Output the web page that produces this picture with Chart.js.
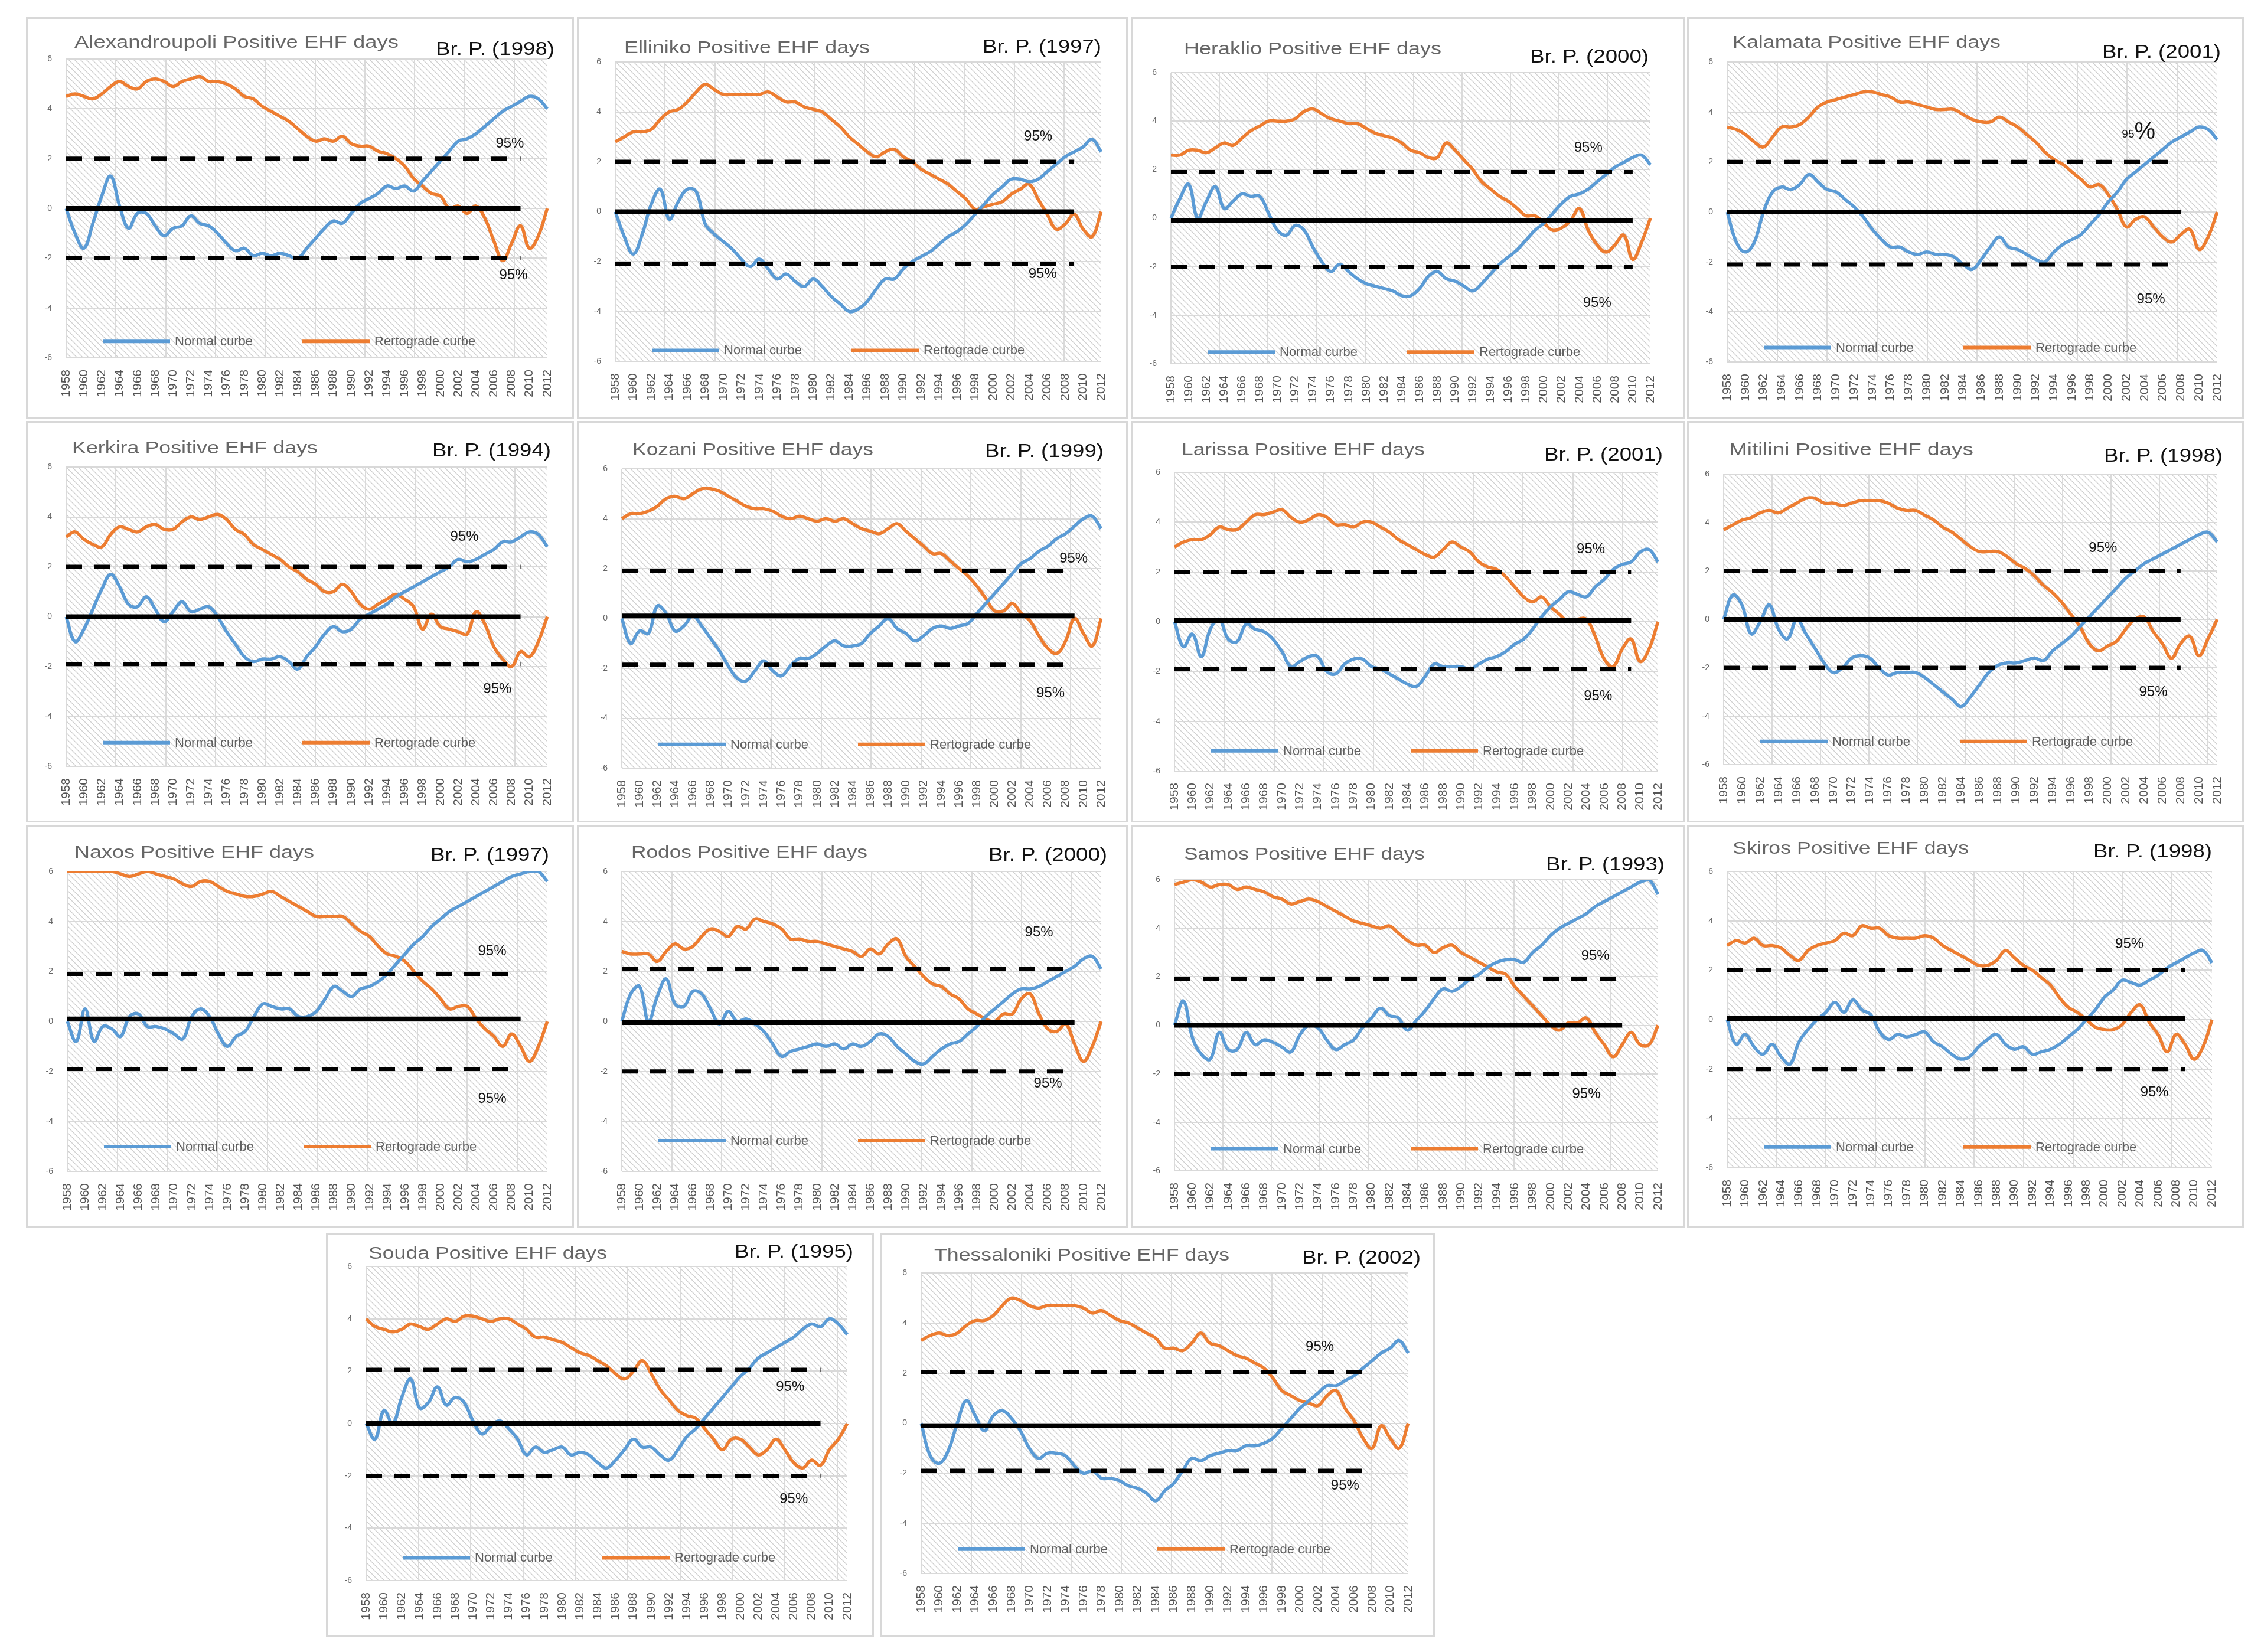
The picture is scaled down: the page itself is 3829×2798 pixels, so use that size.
<!DOCTYPE html>
<html>
<head>
<meta charset="utf-8">
<title>Positive EHF days</title>
<script src="https://cdn.jsdelivr.net/npm/chart.js@4.4.1/dist/chart.umd.min.js"></script>
<style>
  html, body { margin: 0; padding: 0; background: #fff; }
  #page { position: relative; width: 3829px; height: 2798px; overflow: hidden; background: #fff; }
  .panel { position: absolute; background: #fff; }
  .panel::after { content: ''; position: absolute; left: 0; top: 0; right: 0; bottom: 0;
                  border: 3px solid #d8d8d8; pointer-events: none; }
  .cv { position: absolute; left: 0; top: 0; width: 100%; height: 100%; }
  .ttl, .brp { position: absolute; white-space: nowrap; line-height: 1;
               font-family: "Liberation Sans Narrow", "Liberation Sans", Arial, sans-serif; }
  .ttl { color: #666; font-size: 29px; transform-origin: 0 50%; }
  .brp { color: #111; font-size: 31px; transform-origin: 100% 50%; }
</style>
</head>
<body>
<div id="page"></div>
<script>
// categories
const years = [1958, 1959, 1960, 1961, 1962, 1963, 1964, 1965, 1966, 1967,
  1968, 1969, 1970, 1971, 1972, 1973, 1974, 1975, 1976, 1977,
  1978, 1979, 1980, 1981, 1982, 1983, 1984, 1985, 1986, 1987,
  1988, 1989, 1990, 1991, 1992, 1993, 1994, 1995, 1996, 1997,
  1998, 1999, 2000, 2001, 2002, 2003, 2004, 2005, 2006, 2007,
  2008, 2009, 2010, 2011, 2012];
const yTicks = [-6, -4, -2, 0, 2, 4, 6];

const stations = ['Alexandroupoli', 'Elliniko', 'Heraklio', 'Kalamata', 'Kerkira', 'Kozani', 'Larissa',
  'Mitilini', 'Naxos', 'Rodos', 'Samos', 'Skiros', 'Souda', 'Thessaloniki'];
const breakYears = [1998, 1997, 2000, 2001, 1994, 1999, 2001, 1998, 1997, 2000, 1993, 1998, 1995, 2002];

// 95% limits, zero line and the year where those reference lines stop
const upperLimit = [2.0, 2.0, 1.9, 2.0, 2.0, 1.9, 2.0, 2.0, 1.9, 2.1, 1.9, 2.0, 2.05, 2.05];
const lowerLimit = [-2.0, -2.1, -2.0, -2.1, -1.9, -1.85, -1.9, -2.0, -1.9, -2.0, -2.0, -2.0, -2.0, -1.9];
const zeroLevel = [0, 0, -0.1, 0, 0, 0.1, 0.05, 0, 0.1, -0.05, 0, 0.05, 0, -0.1];
const lineEnd = [2009, 2009, 2010, 2008, 2009, 2009, 2009, 2008, 2009, 2009, 2008, 2009, 2009, 2008];

// Normal curbe (blue) and Rertograde curbe (orange), 1958-2012
const normalAlexandroupoli = [0, -1.0, -1.6, -0.6, 0.5, 1.3, 0.1, -0.8, -0.2, -0.2,
  -0.7, -1.1, -0.8, -0.7, -0.3, -0.6, -0.7, -1.0, -1.4, -1.7,
  -1.6, -1.9, -1.8, -1.9, -1.8, -1.9, -2.0, -1.6, -1.2, -0.8,
  -0.5, -0.6, -0.2, 0.2, 0.4, 0.6, 0.9, 0.8, 0.9, 0.7,
  1.1, 1.5, 1.9, 2.3, 2.7, 2.8, 3.0, 3.3, 3.6, 3.9,
  4.1, 4.3, 4.5, 4.4, 4.0];
const retroAlexandroupoli = [4.5, 4.6, 4.5, 4.4, 4.6, 4.9, 5.1, 4.9, 4.8, 5.1,
  5.2, 5.1, 4.9, 5.1, 5.2, 5.3, 5.1, 5.1, 5.0, 4.8,
  4.5, 4.4, 4.1, 3.9, 3.7, 3.5, 3.2, 2.9, 2.7, 2.8,
  2.7, 2.9, 2.6, 2.5, 2.5, 2.3, 2.2, 2.0, 1.7, 1.2,
  0.9, 0.6, 0.5, 0.0, 0.1, -0.2, 0.1, -0.4, -1.3, -2.1,
  -1.4, -0.7, -1.6, -1.1, 0.0];

const normalElliniko = [0, -1.0, -1.7, -0.9, 0.3, 0.9, -0.3, 0.4, 0.9, 0.8,
  -0.5, -0.9, -1.2, -1.5, -1.9, -2.2, -1.9, -2.3, -2.7, -2.5,
  -2.8, -3.0, -2.7, -3.0, -3.4, -3.7, -4.0, -3.9, -3.6, -3.1,
  -2.7, -2.7, -2.3, -2.0, -1.8, -1.6, -1.3, -1.0, -0.8, -0.5,
  -0.1, 0.3, 0.7, 1.0, 1.3, 1.3, 1.2, 1.3, 1.6, 1.9,
  2.2, 2.4, 2.6, 2.9, 2.4];
const retroElliniko = [2.8, 3.0, 3.2, 3.2, 3.3, 3.7, 4.0, 4.1, 4.4, 4.8,
  5.1, 4.9, 4.7, 4.7, 4.7, 4.7, 4.7, 4.8, 4.6, 4.4,
  4.4, 4.2, 4.1, 4.0, 3.7, 3.4, 3.0, 2.7, 2.4, 2.2,
  2.4, 2.5, 2.2, 2.0, 1.7, 1.5, 1.3, 1.1, 0.8, 0.5,
  0.1, 0.2, 0.3, 0.4, 0.7, 0.9, 1.1, 0.5, -0.1, -0.7,
  -0.5, -0.1, -0.7, -1.0, 0.0];

const normalHeraklio = [0, 0.8, 1.4, 0.0, 0.7, 1.3, 0.4, 0.7, 1.0, 0.9,
  0.9, 0.2, -0.5, -0.7, -0.3, -0.5, -1.2, -1.8, -2.2, -1.9,
  -2.2, -2.5, -2.7, -2.8, -2.9, -3.0, -3.2, -3.2, -2.9, -2.4,
  -2.2, -2.5, -2.6, -2.8, -3.0, -2.7, -2.3, -1.9, -1.6, -1.3,
  -0.9, -0.5, -0.2, 0.2, 0.6, 0.9, 1.0, 1.2, 1.5, 1.8,
  2.1, 2.3, 2.5, 2.6, 2.2];
const retroHeraklio = [2.6, 2.6, 2.8, 2.8, 2.7, 2.9, 3.1, 3.0, 3.3, 3.6,
  3.8, 4.0, 4.0, 4.0, 4.1, 4.4, 4.5, 4.3, 4.1, 4.0,
  3.9, 3.9, 3.7, 3.5, 3.4, 3.3, 3.1, 2.8, 2.7, 2.5,
  2.5, 3.1, 2.8, 2.4, 2.0, 1.5, 1.2, 0.9, 0.7, 0.4,
  0.1, 0.1, -0.2, -0.5, -0.4, -0.1, 0.4, -0.5, -1.1, -1.4,
  -1.1, -0.7, -1.7, -1.0, 0.0];

const normalKalamata = [0, -1.2, -1.6, -1.2, 0.0, 0.8, 1.0, 0.9, 1.1, 1.5,
  1.2, 0.9, 0.8, 0.5, 0.2, -0.2, -0.7, -1.1, -1.4, -1.4,
  -1.6, -1.7, -1.6, -1.7, -1.7, -1.8, -2.1, -2.3, -1.9, -1.4,
  -1.0, -1.4, -1.5, -1.7, -1.9, -2.0, -1.6, -1.3, -1.1, -0.9,
  -0.5, -0.1, 0.4, 0.8, 1.3, 1.6, 1.9, 2.2, 2.5, 2.8,
  3.0, 3.2, 3.4, 3.3, 2.9];
const retroKalamata = [3.4, 3.3, 3.1, 2.8, 2.6, 3.0, 3.4, 3.4, 3.5, 3.8,
  4.2, 4.4, 4.5, 4.6, 4.7, 4.8, 4.8, 4.7, 4.6, 4.4,
  4.4, 4.3, 4.2, 4.1, 4.1, 4.1, 3.9, 3.7, 3.6, 3.6,
  3.8, 3.6, 3.4, 3.1, 2.8, 2.4, 2.1, 1.9, 1.6, 1.3,
  1.0, 1.1, 0.7, 0.1, -0.6, -0.3, -0.2, -0.6, -1.0, -1.2,
  -0.9, -0.7, -1.5, -1.0, 0.0];

const normalKerkira = [0, -1.0, -0.5, 0.3, 1.1, 1.7, 1.2, 0.5, 0.4, 0.8,
  0.3, -0.2, 0.2, 0.6, 0.2, 0.3, 0.4, 0.0, -0.6, -1.1,
  -1.6, -1.8, -1.7, -1.7, -1.6, -1.8, -2.1, -1.6, -1.2, -0.7,
  -0.4, -0.6, -0.5, -0.1, 0.1, 0.3, 0.5, 0.8, 1.0, 1.2,
  1.4, 1.6, 1.8, 2.0, 2.3, 2.2, 2.3, 2.5, 2.7, 3.0,
  3.0, 3.2, 3.4, 3.3, 2.8];
const retroKerkira = [3.2, 3.4, 3.1, 2.9, 2.8, 3.3, 3.6, 3.5, 3.4, 3.6,
  3.7, 3.5, 3.5, 3.8, 4.0, 3.9, 4.0, 4.1, 3.9, 3.5,
  3.3, 2.9, 2.7, 2.5, 2.3, 2.0, 1.8, 1.5, 1.3, 1.0,
  1.0, 1.3, 1.0, 0.5, 0.3, 0.5, 0.7, 0.9, 0.7, 0.4,
  -0.5, 0.1, -0.4, -0.5, -0.6, -0.7, 0.2, -0.3, -1.2, -1.7,
  -2.0, -1.4, -1.6, -1.0, 0.0];

const normalKozani = [0, -1.0, -0.5, -0.6, 0.5, 0.2, -0.5, -0.3, 0.1, -0.3,
  -0.8, -1.3, -1.9, -2.4, -2.5, -2.1, -1.7, -2.1, -2.3, -1.9,
  -1.6, -1.6, -1.4, -1.1, -0.9, -1.1, -1.1, -1.0, -0.6, -0.3,
  0.0, -0.4, -0.6, -0.9, -0.7, -0.4, -0.3, -0.4, -0.3, -0.2,
  0.2, 0.6, 1.0, 1.4, 1.8, 2.2, 2.4, 2.7, 2.9, 3.2,
  3.4, 3.7, 4.0, 4.1, 3.6];
const retroKozani = [4.0, 4.2, 4.2, 4.3, 4.5, 4.8, 4.9, 4.8, 5.0, 5.2,
  5.2, 5.1, 4.9, 4.7, 4.5, 4.4, 4.4, 4.3, 4.1, 4.0,
  4.1, 4.0, 3.9, 4.0, 3.9, 4.0, 3.8, 3.6, 3.5, 3.4,
  3.6, 3.8, 3.5, 3.2, 2.9, 2.6, 2.6, 2.3, 2.0, 1.7,
  1.3, 0.8, 0.3, 0.3, 0.6, 0.2, -0.1, -0.7, -1.2, -1.4,
  -0.9, 0.0, -0.6, -1.1, 0.0];

const normalLarissa = [0, -1.0, -0.5, -1.4, -0.3, 0.1, -0.7, -0.8, -0.1, -0.3,
  -0.4, -0.7, -1.2, -1.8, -1.6, -1.4, -1.4, -2.0, -2.1, -1.7,
  -1.5, -1.5, -1.8, -1.9, -2.1, -2.3, -2.5, -2.6, -2.2, -1.7,
  -1.8, -1.8, -1.8, -1.9, -1.7, -1.5, -1.4, -1.2, -0.9, -0.7,
  -0.3, 0.2, 0.6, 0.9, 1.2, 1.1, 1.0, 1.4, 1.7, 2.1,
  2.3, 2.4, 2.8, 2.9, 2.4];
const retroLarissa = [3.0, 3.2, 3.3, 3.3, 3.5, 3.8, 3.7, 3.7, 4.0, 4.3,
  4.3, 4.4, 4.5, 4.2, 4.0, 4.1, 4.3, 4.2, 3.9, 3.9,
  3.8, 4.0, 4.0, 3.8, 3.6, 3.3, 3.1, 2.9, 2.7, 2.6,
  2.9, 3.2, 3.0, 2.8, 2.4, 2.2, 2.1, 1.8, 1.4, 1.0,
  0.8, 1.0, 0.6, 0.3, 0.0, 0.1, 0.1, -0.6, -1.5, -1.8,
  -1.1, -0.7, -1.6, -1.1, 0.0];

const normalMitilini = [0, 1.0, 0.6, -0.6, -0.1, 0.6, -0.4, -0.8, 0.0, -0.6,
  -1.2, -1.8, -2.2, -2.0, -1.6, -1.5, -1.6, -2.0, -2.3, -2.2,
  -2.2, -2.2, -2.4, -2.7, -3.0, -3.3, -3.6, -3.2, -2.7, -2.2,
  -1.9, -1.8, -1.8, -1.7, -1.6, -1.7, -1.3, -1.0, -0.7, -0.3,
  0.1, 0.5, 0.9, 1.3, 1.7, 2.0, 2.3, 2.5, 2.7, 2.9,
  3.1, 3.3, 3.5, 3.6, 3.2];
const retroMitilini = [3.7, 3.9, 4.1, 4.2, 4.4, 4.5, 4.4, 4.6, 4.8, 5.0,
  5.0, 4.8, 4.8, 4.7, 4.8, 4.9, 4.9, 4.9, 4.8, 4.6,
  4.5, 4.5, 4.3, 4.1, 3.8, 3.6, 3.3, 3.0, 2.8, 2.8,
  2.8, 2.6, 2.3, 2.1, 1.8, 1.4, 1.1, 0.7, 0.2, -0.3,
  -1.0, -1.3, -1.1, -0.9, -0.4, 0.0, 0.1, -0.5, -1.0, -1.6,
  -1.0, -0.7, -1.5, -0.8, 0.0];

const normalNaxos = [0, -0.8, 0.5, -0.8, -0.2, -0.3, -0.6, 0.2, 0.3, -0.2,
  -0.2, -0.3, -0.5, -0.7, 0.2, 0.5, 0.2, -0.5, -1.0, -0.6,
  -0.4, 0.2, 0.7, 0.6, 0.5, 0.5, 0.2, 0.2, 0.4, 0.9,
  1.4, 1.2, 1.0, 1.3, 1.4, 1.6, 1.9, 2.3, 2.7, 3.1,
  3.4, 3.8, 4.1, 4.4, 4.6, 4.8, 5.0, 5.2, 5.4, 5.6,
  5.8, 5.9, 6.0, 6.0, 5.6];
const retroNaxos = [6.0, 6.0, 6.0, 6.0, 6.0, 6.0, 5.9, 5.8, 5.9, 6.0,
  5.9, 5.8, 5.7, 5.5, 5.4, 5.6, 5.6, 5.4, 5.2, 5.1,
  5.0, 5.0, 5.1, 5.2, 5.0, 4.8, 4.6, 4.4, 4.2, 4.2,
  4.2, 4.2, 3.9, 3.6, 3.4, 3.0, 2.7, 2.6, 2.4, 2.0,
  1.6, 1.3, 0.9, 0.5, 0.6, 0.6, 0.1, -0.3, -0.6, -1.0,
  -0.5, -1.0, -1.6, -1.0, 0.0];

const normalRodos = [0, 1.1, 1.4, 0.0, 1.0, 1.7, 0.7, 0.6, 1.2, 1.1,
  0.5, -0.1, 0.4, 0.0, 0.1, -0.1, -0.4, -0.9, -1.4, -1.2,
  -1.1, -1.0, -0.9, -1.0, -0.9, -1.1, -0.9, -1.0, -0.8, -0.5,
  -0.6, -1.0, -1.3, -1.6, -1.7, -1.4, -1.1, -0.9, -0.8, -0.5,
  -0.2, 0.2, 0.5, 0.8, 1.1, 1.3, 1.3, 1.4, 1.6, 1.8,
  2.0, 2.2, 2.5, 2.6, 2.1];
const retroRodos = [2.8, 2.7, 2.7, 2.7, 2.4, 2.8, 3.1, 2.9, 3.0, 3.4,
  3.7, 3.6, 3.4, 3.8, 3.7, 4.1, 4.0, 3.9, 3.7, 3.3,
  3.3, 3.2, 3.2, 3.1, 3.0, 2.9, 2.8, 2.6, 2.9, 2.7,
  3.1, 3.3, 2.6, 2.2, 1.8, 1.5, 1.4, 1.1, 0.9, 0.5,
  0.3, 0.1, 0.0, 0.3, 0.3, 0.9, 1.1, 0.3, -0.3, -0.4,
  -0.1, -0.9, -1.6, -1.0, 0.0];

const normalSamos = [0, 1.0, -0.5, -1.2, -1.4, -0.3, -1.0, -1.0, -0.3, -0.8,
  -0.6, -0.7, -0.9, -1.1, -0.4, 0.0, -0.1, -0.6, -1.0, -0.8,
  -0.6, -0.1, 0.3, 0.7, 0.4, 0.3, -0.2, 0.2, 0.6, 1.1,
  1.5, 1.4, 1.6, 1.9, 2.1, 2.4, 2.6, 2.7, 2.7, 2.6,
  3.0, 3.3, 3.7, 4.0, 4.2, 4.4, 4.6, 4.9, 5.1, 5.3,
  5.5, 5.7, 5.9, 6.0, 5.4];
const retroSamos = [5.8, 5.9, 6.0, 5.9, 5.7, 5.8, 5.8, 5.6, 5.7, 5.6,
  5.5, 5.3, 5.2, 5.0, 5.1, 5.2, 5.1, 4.9, 4.7, 4.5,
  4.3, 4.2, 4.1, 4.0, 4.1, 3.8, 3.5, 3.3, 3.3, 3.0,
  3.2, 3.3, 3.0, 2.8, 2.6, 2.4, 2.2, 2.1, 1.6, 1.2,
  0.8, 0.4, 0.0, -0.2, 0.1, 0.1, 0.3, -0.3, -0.8, -1.3,
  -0.8, -0.3, -0.8, -0.8, 0.0];

const normalSkiros = [0, -1.0, -0.6, -1.1, -1.4, -1.0, -1.5, -1.8, -0.9, -0.4,
  0.0, 0.3, 0.7, 0.3, 0.8, 0.4, 0.2, -0.5, -0.8, -0.6,
  -0.7, -0.6, -0.5, -0.9, -1.1, -1.4, -1.6, -1.5, -1.1, -0.8,
  -0.6, -1.0, -1.2, -1.1, -1.4, -1.3, -1.2, -1.0, -0.7, -0.4,
  0.0, 0.4, 0.9, 1.2, 1.6, 1.5, 1.4, 1.6, 1.8, 2.1,
  2.3, 2.5, 2.7, 2.8, 2.3];
const retroSkiros = [3.0, 3.2, 3.1, 3.3, 3.0, 3.0, 2.9, 2.6, 2.4, 2.8,
  3.0, 3.1, 3.2, 3.5, 3.4, 3.8, 3.7, 3.7, 3.4, 3.3,
  3.3, 3.3, 3.4, 3.3, 3.0, 2.8, 2.6, 2.4, 2.2, 2.2,
  2.4, 2.8, 2.5, 2.2, 2.0, 1.7, 1.4, 0.9, 0.5, 0.3,
  0.0, -0.3, -0.4, -0.4, -0.2, 0.3, 0.6, -0.1, -0.6, -1.3,
  -0.6, -1.0, -1.6, -1.1, 0.0];

const normalSouda = [0, -0.6, 0.5, 0.0, 1.0, 1.7, 0.6, 0.8, 1.4, 0.7,
  1.0, 0.8, 0.1, -0.4, -0.1, 0.1, -0.2, -0.6, -1.2, -0.9,
  -1.1, -1.0, -0.9, -1.2, -1.1, -1.2, -1.5, -1.7, -1.4, -1.0,
  -0.6, -0.9, -0.9, -1.2, -1.4, -1.0, -0.5, -0.2, 0.2, 0.6,
  1.0, 1.4, 1.8, 2.1, 2.5, 2.7, 2.9, 3.1, 3.3, 3.6,
  3.8, 3.7, 4.0, 3.8, 3.4];
const retroSouda = [4.0, 3.7, 3.6, 3.5, 3.6, 3.8, 3.7, 3.6, 3.8, 4.0,
  3.9, 4.1, 4.1, 4.0, 3.9, 4.0, 4.0, 3.8, 3.6, 3.3,
  3.3, 3.2, 3.1, 2.9, 2.7, 2.6, 2.4, 2.2, 1.9, 1.7,
  2.0, 2.4, 1.9, 1.3, 0.9, 0.5, 0.3, 0.2, -0.2, -0.6,
  -1.0, -0.6, -0.6, -0.9, -1.2, -1.0, -0.6, -1.0, -1.5, -1.7,
  -1.4, -1.6, -1.0, -0.6, 0.0];

const normalThessaloniki = [0, -1.3, -1.6, -1.1, 0.0, 0.9, 0.3, -0.3, 0.3, 0.5,
  0.2, -0.3, -1.0, -1.4, -1.2, -1.2, -1.3, -1.7, -2.0, -1.9,
  -2.2, -2.2, -2.3, -2.5, -2.6, -2.8, -3.1, -2.7, -2.4, -1.9,
  -1.4, -1.5, -1.3, -1.2, -1.1, -1.1, -0.9, -0.9, -0.8, -0.6,
  -0.2, 0.2, 0.6, 0.9, 1.2, 1.5, 1.5, 1.7, 1.9, 2.2,
  2.5, 2.8, 3.0, 3.3, 2.8];
const retroThessaloniki = [3.3, 3.5, 3.6, 3.5, 3.6, 3.9, 4.1, 4.1, 4.3, 4.7,
  5.0, 4.9, 4.7, 4.6, 4.7, 4.7, 4.7, 4.7, 4.6, 4.4,
  4.5, 4.3, 4.1, 4.0, 3.8, 3.6, 3.4, 3.0, 3.0, 2.9,
  3.2, 3.6, 3.2, 3.1, 2.9, 2.7, 2.6, 2.4, 2.2, 1.8,
  1.3, 1.1, 0.9, 0.8, 0.7, 1.1, 1.3, 0.6, 0.1, -0.6,
  -1.0, -0.1, -0.6, -1.0, 0.0];

const normalSeries = [normalAlexandroupoli, normalElliniko, normalHeraklio, normalKalamata, normalKerkira,
  normalKozani, normalLarissa, normalMitilini, normalNaxos, normalRodos, normalSamos, normalSkiros,
  normalSouda, normalThessaloniki];
const retroSeries = [retroAlexandroupoli, retroElliniko, retroHeraklio, retroKalamata, retroKerkira,
  retroKozani, retroLarissa, retroMitilini, retroNaxos, retroRodos, retroSamos, retroSkiros,
  retroSouda, retroThessaloniki];

// page layout: panel box, plot offsets (L,T,R,B), title / Br. P. placement, legend and 95% label spots
const layout = [
  { x: 44, y: 29, w: 928, h: 680, L: 68, T: 71, R: 35, B: 577, tx: 82, ty: 42, tw: 549, bx: 33, by: 53, lg: -5.34, up: [2007.8, 2.6], lo: [2008.2, -2.7] },
  { x: 977, y: 29, w: 933, h: 680, L: 65, T: 76, R: 39, B: 583, tx: 80, ty: 51, tw: 416, bx: 45, by: 49, lg: -5.56, up: [2005, 3.0], lo: [2005.5, -2.5] },
  { x: 1915, y: 29, w: 938, h: 680, L: 68, T: 94, R: 58, B: 587, tx: 90, ty: 53, tw: 436, bx: 61, by: 66, lg: -5.52, up: [2005, 2.9], lo: [2006, -3.5] },
  { x: 2857, y: 29, w: 943, h: 680, L: 68, T: 76, R: 38, B: 584, tx: 77, ty: 42, tw: 454, bx: 39, by: 58, lg: -5.42, up: [2003, 3.2], lo: [2004.7, -3.5], big: true },
  { x: 44, y: 713, w: 928, h: 680, L: 68, T: 78, R: 42, B: 585, tx: 78, ty: 45, tw: 416, bx: 39, by: 49, lg: -5.05, up: [2002.7, 3.2], lo: [2006.4, -2.9] },
  { x: 977, y: 713, w: 933, h: 680, L: 76, T: 81, R: 35, B: 588, tx: 94, ty: 48, tw: 408, bx: 41, by: 50, lg: -5.05, up: [2008.9, 2.4], lo: [2006.3, -3.0] },
  { x: 1915, y: 713, w: 938, h: 680, L: 74, T: 87, R: 34, B: 593, tx: 86, ty: 48, tw: 412, bx: 37, by: 56, lg: -5.19, up: [2004.5, 2.9], lo: [2005.3, -3.0] },
  { x: 2857, y: 713, w: 943, h: 680, L: 62, T: 90, R: 34, B: 582, tx: 71, ty: 48, tw: 414, bx: 36, by: 58, lg: -5.04, up: [1999.5, 2.95], lo: [2005, -3.0] },
  { x: 44, y: 1398, w: 928, h: 682, L: 70, T: 78, R: 42, B: 586, tx: 82, ty: 45, tw: 406, bx: 42, by: 49, lg: -5.01, up: [2005.8, 2.8], lo: [2005.8, -3.1] },
  { x: 977, y: 1398, w: 933, h: 682, L: 76, T: 78, R: 41, B: 586, tx: 92, ty: 45, tw: 400, bx: 35, by: 49, lg: -4.77, up: [2005, 3.55], lo: [2006, -2.5] },
  { x: 1915, y: 1398, w: 938, h: 682, L: 74, T: 92, R: 28, B: 585, tx: 90, ty: 48, tw: 408, bx: 34, by: 65, lg: -5.09, up: [2005, 2.85], lo: [2004, -2.85] },
  { x: 2857, y: 1398, w: 943, h: 682, L: 68, T: 78, R: 54, B: 580, tx: 77, ty: 38, tw: 400, bx: 54, by: 43, lg: -5.16, up: [2002.8, 3.05], lo: [2005.6, -2.95] },
  { x: 552, y: 2088, w: 928, h: 684, L: 68, T: 57, R: 41, B: 589, tx: 72, ty: 34, tw: 404, bx: 35, by: 31, lg: -5.13, up: [2005.6, 1.4], lo: [2006, -2.9] },
  { x: 1490, y: 2088, w: 940, h: 684, L: 70, T: 68, R: 36, B: 577, tx: 92, ty: 37, tw: 500, bx: 24, by: 41, lg: -5.03, up: [2002.2, 3.05], lo: [2005, -2.5] }
];

const FONT = '"Liberation Sans Narrow", "Liberation Sans", Arial, sans-serif';
const BLUE = '#5B9BD5';
const ORANGE = '#ED7D31';
Chart.defaults.font.family = FONT;
Chart.defaults.color = '#595959';

function makeHatch() {
  var s = 10;
  var c = document.createElement('canvas');
  c.width = s; c.height = s;
  var g = c.getContext('2d');
  g.strokeStyle = '#cfcfcf';
  g.lineWidth = 1.3;
  g.beginPath();
  [-s, 0, s].forEach(function (k) {
    g.moveTo(-1, -1 + k);
    g.lineTo(s + 1, s + 1 + k);
  });
  g.stroke();
  return c;
}
var hatchTile = makeHatch();

var ehfPlugin = {
  id: 'ehf',
  beforeDraw: function (chart) {
    var a = chart.chartArea, ctx = chart.ctx, ys = chart.scales.y;
    ctx.save();
    ctx.fillStyle = ctx.createPattern(hatchTile, 'repeat');
    ctx.fillRect(a.left, a.top, a.right - a.left, a.bottom - a.top);
    // faint square grid: vertical lines at the same spacing as the y gridlines
    var cell = Math.abs(ys.getPixelForValue(2) - ys.getPixelForValue(0));
    ctx.strokeStyle = '#dadada';
    ctx.lineWidth = 2;
    ctx.beginPath();
    for (var vx = a.left; vx <= a.right + 0.5; vx += cell) {
      ctx.moveTo(Math.round(vx), a.top);
      ctx.lineTo(Math.round(vx), a.bottom);
    }
    ctx.stroke();
    ctx.restore();
  },
  afterDatasetsDraw: function (chart, args, opts) {
    var ctx = chart.ctx, a = chart.chartArea;
    var xs = chart.scales.x, ys = chart.scales.y;
    var x0 = xs.getPixelForValue(0);
    var step = xs.getPixelForValue(1) - x0;
    var xAt = function (yr) { return x0 + (yr - years[0]) * step; };

    ctx.save();
    ctx.fillStyle = '#141414';
    ctx.textBaseline = 'middle';
    // 95% labels
    var ux = xAt(opts.up[0]), uy = ys.getPixelForValue(opts.up[1]);
    if (opts.big) {
      ctx.font = '19px ' + FONT;
      ctx.textAlign = 'right';
      ctx.fillText('95', ux - 2, uy + 4);
      ctx.font = '40px ' + FONT;
      ctx.textAlign = 'left';
      ctx.fillText('%', ux - 2, uy);
    } else {
      ctx.font = '24px ' + FONT;
      ctx.textAlign = 'center';
      ctx.fillText('95%', ux, uy);
    }
    ctx.font = '24px ' + FONT;
    ctx.textAlign = 'center';
    ctx.fillText('95%', xAt(opts.lo[0]), ys.getPixelForValue(opts.lo[1]));

    // legend inside the plot area
    var ly = ys.getPixelForValue(opts.legendY);
    var sets = [chart.data.datasets[3], chart.data.datasets[4]];
    var starts = [62, 400];
    ctx.font = '22px ' + FONT;
    ctx.textAlign = 'left';
    sets.forEach(function (ds, k) {
      var lx = a.left + starts[k];
      ctx.strokeStyle = ds.borderColor;
      ctx.lineWidth = 6;
      ctx.lineCap = 'butt';
      ctx.beginPath();
      ctx.moveTo(lx, ly);
      ctx.lineTo(lx + 114, ly);
      ctx.stroke();
      ctx.fillStyle = '#5f5f5f';
      ctx.fillText(ds.label, lx + 122, ly + 1);
    });
    ctx.restore();
  }
};

var page = document.getElementById('page');

stations.forEach(function (name, i) {
  var box = layout[i];
  var panel = document.createElement('div');
  panel.className = 'panel';
  panel.style.left = box.x + 'px';
  panel.style.top = box.y + 'px';
  panel.style.width = box.w + 'px';
  panel.style.height = box.h + 'px';

  var holder = document.createElement('div');
  holder.className = 'cv';
  var canvas = document.createElement('canvas');
  holder.appendChild(canvas);
  panel.appendChild(holder);

  var ttl = document.createElement('div');
  ttl.className = 'ttl';
  ttl.textContent = name + ' Positive EHF days';
  ttl.style.left = box.tx + 'px';
  ttl.style.top = box.ty + 'px';
  panel.appendChild(ttl);

  var brp = document.createElement('div');
  brp.className = 'brp';
  brp.textContent = 'Br. P. (' + breakYears[i] + ')';
  brp.style.right = box.bx + 'px';
  brp.style.top = box.by + 'px';
  panel.appendChild(brp);

  page.appendChild(panel);

  var tw = ttl.getBoundingClientRect().width;
  ttl.style.transform = 'translateY(-50%) scaleX(' + (box.tw / tw) + ')';
  var bw = brp.getBoundingClientRect().width;
  brp.style.transform = 'translateY(-50%) scaleX(' + (201 / bw) + ')';

  var refLine = function (v) {
    return years.map(function (y) { return y <= lineEnd[i] ? v : null; });
  };

  new Chart(canvas, {
    type: 'line',
    data: {
      labels: years.map(String),
      datasets: [
        { label: 'upper 95%', data: refLine(upperLimit[i]), borderColor: '#000', borderWidth: 7,
          borderDash: [27, 21], tension: 0, order: 0 },
        { label: 'lower 95%', data: refLine(lowerLimit[i]), borderColor: '#000', borderWidth: 7,
          borderDash: [27, 21], tension: 0, order: 0 },
        { label: 'zero', data: refLine(zeroLevel[i]), borderColor: '#000', borderWidth: 8,
          tension: 0, order: 0 },
        { label: 'Normal curbe', data: normalSeries[i], borderColor: BLUE, borderWidth: 5.5,
          tension: 0.4, order: 1 },
        { label: 'Rertograde curbe', data: retroSeries[i], borderColor: ORANGE, borderWidth: 5.5,
          tension: 0.4, order: 1 }
      ]
    },
    options: {
      responsive: true,
      maintainAspectRatio: false,
      animation: false,
      events: [],
      layout: { padding: { left: 0, top: box.T, right: box.R, bottom: 0 } },
      elements: {
        point: { radius: 0 },
        line: { fill: false, borderJoinStyle: 'round', borderCapStyle: 'butt' }
      },
      plugins: {
        legend: { display: false },
        tooltip: { enabled: false },
        title: { display: false },
        ehf: { up: box.up, lo: box.lo, legendY: box.lg, big: !!box.big }
      },
      scales: {
        x: {
          type: 'category',
          offset: false,
          grid: { display: false, drawTicks: false },
          border: { display: false },
          ticks: {
            autoSkip: false,
            minRotation: 90,
            maxRotation: 90,
            padding: 20,
            color: '#555',
            font: { size: 21 },
            callback: function (v, idx) { return years[idx] % 2 === 0 ? String(years[idx]) : ''; }
          },
          afterFit: function (s) { s.height = box.h - box.B; }
        },
        y: {
          min: yTicks[0],
          max: yTicks[yTicks.length - 1],
          afterBuildTicks: function (s) { s.ticks = yTicks.map(function (v) { return { value: v }; }); },
          grid: { color: '#d9d9d9', lineWidth: 2, drawTicks: false },
          border: { display: false },
          ticks: { padding: 24, color: '#666', font: { size: 14 } },
          afterFit: function (s) { s.width = box.L; }
        }
      }
    },
    plugins: [ehfPlugin]
  });
});
</script>
</body>
</html>
